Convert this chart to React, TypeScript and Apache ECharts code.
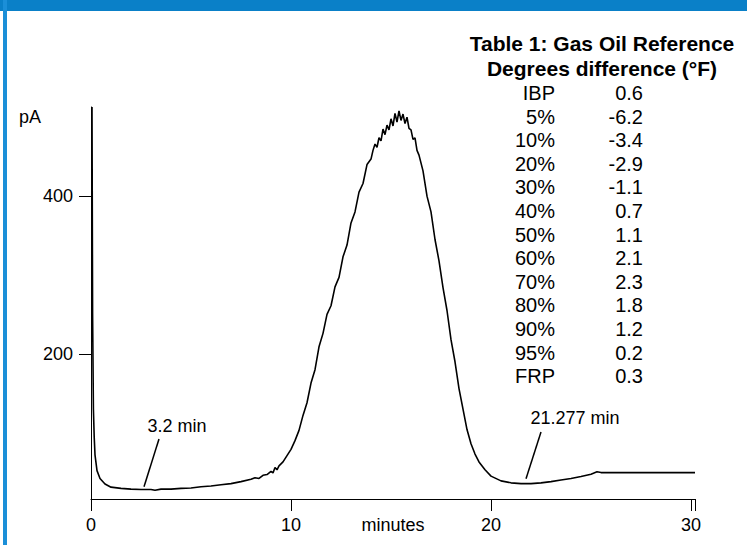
import React, { useEffect, useRef } from 'react';
import * as echarts from 'echarts';

// Chromatogram signal: [minutes, pA]
const signal: [number, number][] = [
  [0.05, 513], [0.08, 250], [0.12, 130], [0.16, 95], [0.2, 72], [0.3, 52], [0.45, 42],
  [0.7, 35], [1.0, 31], [1.5, 29.5], [2.0, 28.5], [2.5, 28], [3.0, 28], [3.2, 27],
  [3.5, 28.5], [4.0, 28.5], [4.5, 29.5], [5.0, 30], [5.5, 31.5], [6.0, 32.5], [6.5, 34],
  [7.0, 35.5], [7.5, 38], [8.0, 41], [8.2, 43], [8.4, 42], [8.6, 46], [8.8, 47],
  [9.0, 51], [9.1, 49], [9.2, 56], [9.3, 53], [9.4, 58], [9.6, 63], [9.8, 71],
  [10.0, 79], [10.2, 90], [10.4, 103], [10.6, 122], [10.8, 138], [11.0, 163], [11.2, 180],
  [11.4, 209], [11.6, 226], [11.8, 250], [12.0, 261], [12.2, 285], [12.4, 297], [12.6, 323],
  [12.8, 338], [13.0, 366], [13.2, 380], [13.4, 405], [13.6, 416], [13.8, 440], [14.0, 447],
  [14.1, 458], [14.2, 466], [14.3, 462], [14.4, 474], [14.5, 470], [14.6, 485], [14.7, 478],
  [14.8, 490], [14.9, 484], [15.0, 498], [15.1, 489], [15.2, 505], [15.3, 494], [15.4, 508],
  [15.5, 496], [15.6, 504], [15.7, 492], [15.8, 500], [15.9, 486], [16.0, 484], [16.1, 472],
  [16.2, 474], [16.3, 458], [16.4, 452], [16.6, 432], [16.8, 400], [17.0, 380], [17.2, 345],
  [17.4, 318], [17.6, 284], [17.8, 255], [18.0, 218], [18.2, 190], [18.4, 156], [18.6, 130],
  [18.8, 104], [19.0, 86], [19.2, 73], [19.4, 63], [19.7, 53], [20.0, 45], [20.5, 39],
  [21.0, 36.5], [21.5, 35.5], [22.0, 35.5], [22.5, 36.5], [23.0, 38], [23.5, 40], [24.0, 42],
  [24.5, 44.5], [25.0, 47.5], [25.3, 50.5], [25.5, 49.5], [26.0, 49.5], [27.0, 49.5],
  [28.0, 49.5], [29.0, 49.5], [30.2, 49.5],
];

const xTickValues = [0, 10, 20, 30];
const yTickValues = [200, 400];
const xMin = 0;
const xMax = 30.2;
const yMin = 16;
const yMax = 513;

const tableTitle = ['Table 1: Gas Oil Reference', 'Degrees difference (°F)'];
const tableLabels = ['IBP', '5%', '10%', '20%', '30%', '40%', '50%', '60%', '70%', '80%', '90%', '95%', 'FRP'];
const tableValues = ['0.6', '-6.2', '-3.4', '-2.9', '-1.1', '0.7', '1.1', '2.1', '2.3', '1.8', '1.2', '0.2', '0.3'];

// annotations in data coordinates
const annTexts = ['3.2 min', '21.277 min'];
const annTextAt: [number, number][] = [[4.3, 108], [24.2, 119]];
const annLineFrom: [number, number][] = [[3.4, 92], [22.5, 101]];
const annLineTo: [number, number][] = [[2.65, 31.6], [21.75, 41.8]];

const FONT = '"Liberation Sans", Arial, Helvetica, sans-serif';

export default function App() {
  const ref = useRef<HTMLDivElement>(null);
  useEffect(() => {
    if (!ref.current) return;
    const chart = echarts.init(ref.current, undefined, { renderer: 'svg' });
    chart.setOption({
      animation: false,
      backgroundColor: '#ffffff',
      grid: { left: 91, right: 52, top: 107, bottom: 46, containLabel: false, outerBoundsMode: 'none' },
      xAxis: {
        type: 'value',
        min: xMin,
        max: xMax,
        interval: 10,
        name: 'minutes',
        nameLocation: 'middle',
        nameGap: 17,
        nameMoveOverlap: false,
        nameTextStyle: { color: '#000', fontSize: 18, fontFamily: FONT, verticalAlign: 'top' },
        axisLine: { show: true, onZero: false, lineStyle: { color: '#000', width: 1 } },
        axisTick: { show: true, length: 12, lineStyle: { color: '#000', width: 1 } },
        axisLabel: {
          color: '#000', fontSize: 18, fontFamily: FONT, margin: 17,
          formatter: (v: number) => (xTickValues.includes(v) ? String(v) : ''),
        },
        splitLine: { show: false },
      },
      yAxis: {
        type: 'value',
        min: yMin,
        max: yMax,
        axisLine: { show: true, onZero: false, lineStyle: { color: '#000', width: 1 } },
        axisTick: { show: true, length: 12, customValues: yTickValues, lineStyle: { color: '#000', width: 1 } },
        axisLabel: { color: '#000', fontSize: 18, fontFamily: FONT, margin: 18, customValues: yTickValues },
        splitLine: { show: false },
      },
      series: [
        {
          type: 'line',
          data: signal,
          showSymbol: false,
          symbol: 'none',
          clip: true,
          lineStyle: { color: '#000', width: 1.6 },
        },
      ],
    });

    const graphics: any[] = [
      { type: 'rect', shape: { x: 0, y: 0, width: 747, height: 11 }, style: { fill: '#0a80c8' }, z: 10 },
      { type: 'rect', shape: { x: 3, y: 0, width: 4, height: 545 }, style: { fill: '#1b8fd8' }, z: 10 },
      {
        type: 'text', x: 19, y: 117,
        style: { text: 'pA', fontSize: 18, fontFamily: FONT, fill: '#000', align: 'left', verticalAlign: 'middle' },
      },
    ];
    tableTitle.forEach((t, i) => {
      graphics.push({
        type: 'text', x: 602, y: 43 + i * 25,
        style: { text: t, fontSize: 21, fontWeight: 'bold', fontFamily: FONT, fill: '#000', align: 'center', verticalAlign: 'middle' },
      });
    });
    tableLabels.forEach((lab, i) => {
      const y = 93 + i * 23.6;
      graphics.push({
        type: 'text', x: 555, y,
        style: { text: lab, fontSize: 20, fontFamily: FONT, fill: '#000', align: 'right', verticalAlign: 'middle' },
      });
      graphics.push({
        type: 'text', x: 643, y,
        style: { text: tableValues[i], fontSize: 20, fontFamily: FONT, fill: '#000', align: 'right', verticalAlign: 'middle' },
      });
    });
    annTexts.forEach((t, i) => {
      const p = chart.convertToPixel({ gridIndex: 0 }, annTextAt[i]) as number[];
      const a = chart.convertToPixel({ gridIndex: 0 }, annLineFrom[i]) as number[];
      const b = chart.convertToPixel({ gridIndex: 0 }, annLineTo[i]) as number[];
      graphics.push({
        type: 'text', x: p[0], y: p[1],
        style: { text: t, fontSize: 18, fontFamily: FONT, fill: '#000', align: 'center', verticalAlign: 'middle' },
      });
      graphics.push({
        type: 'line', shape: { x1: a[0], y1: a[1], x2: b[0], y2: b[1] },
        style: { stroke: '#000', lineWidth: 1.5 },
      });
    });
    chart.setOption({ graphic: graphics });

    return () => chart.dispose();
  }, []);
  return (
    <div
      ref={ref}
      style={{ position: 'fixed', left: 0, top: 0, width: 747, height: 545, background: '#fff' }}
    />
  );
}
